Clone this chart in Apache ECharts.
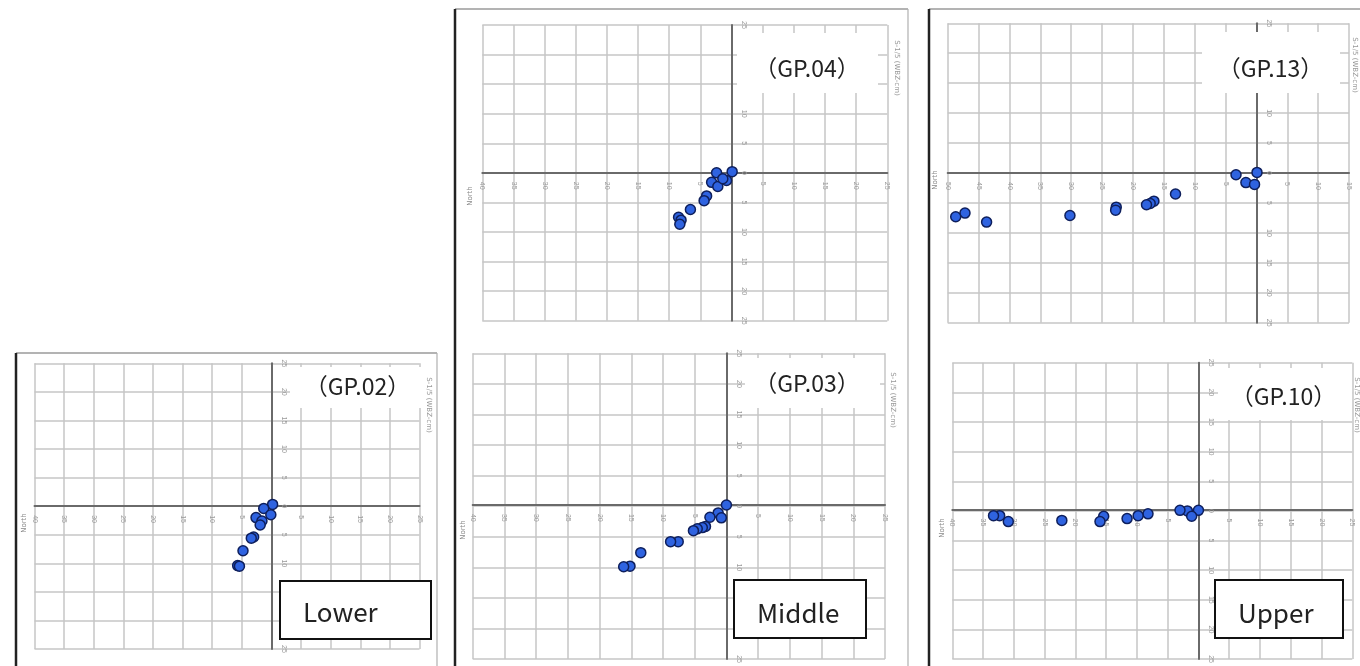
<!DOCTYPE html>
<html><head><meta charset="utf-8">
<script src="https://cdn.jsdelivr.net/npm/echarts@6/dist/echarts.min.js"></script>
<style>html,body{margin:0;padding:0;background:#fff}#c{width:1360px;height:666px}</style>
</head><body><div id="c"></div>
<script>
// ---- data (x: east(+)/west(-) displacement, y: north(+)/south(-) displacement) ----
const panelNames = ['（GP.02）', '（GP.04）', '（GP.03）', '（GP.13）', '（GP.10）'];
const levelNames = ['Lower', 'Middle', 'Upper'];
const xMins = [-40, -40, -40, -50, -40];
const xMaxs = [25, 25, 25, 15, 25];
const yMin = -25, yMax = 25, tickStep = 5;
const northLabel = 'North';
const sideLabel = 'S-1/5 (WBZ-cm)';

const gp02 = [[0.2,0.3],[-1.3,-0.4],[-0.1,-1.5],[-2.6,-2.0],[-1.6,-2.6],[-1.9,-3.3],[-3.0,-5.4],[-3.4,-5.6],[-4.8,-7.8],[-5.7,-10.4],[-5.4,-10.5]];
const gp04 = [[0.1,0.2],[-2.4,0.0],[-3.2,-1.6],[-2.2,-2.3],[-0.8,-1.3],[-1.4,-1.0],[-4.0,-3.9],[-4.4,-4.7],[-6.6,-6.2],[-8.5,-7.5],[-8.1,-8.0],[-8.3,-8.7]];
const gp03 = [[0.0,0.2],[-1.3,-1.1],[-0.8,-1.9],[-2.6,-1.8],[-3.3,-3.3],[-3.8,-3.5],[-4.6,-3.7],[-5.2,-4.0],[-7.6,-5.8],[-8.8,-5.8],[-13.5,-7.6],[-15.2,-9.8],[-16.2,-9.9]];
const gp13 = [[0.1,0.1],[-3.3,-0.3],[-1.7,-1.6],[-0.3,-1.9],[-13.1,-3.5],[-16.6,-4.7],[-17.2,-5.1],[-17.8,-5.3],[-22.7,-5.7],[-22.8,-6.2],[-30.2,-7.1],[-43.7,-8.2],[-47.2,-6.7],[-48.7,-7.3]];
const gp10 = [[0.0,0.1],[-1.8,0.0],[-3.0,0.1],[-1.1,-0.9],[-8.2,-0.5],[-9.8,-0.8],[-11.6,-1.3],[-15.4,-0.9],[-16.0,-1.8],[-22.2,-1.6],[-30.9,-1.8],[-32.3,-0.8],[-33.3,-0.8]];
const seriesData = [gp02, gp04, gp03, gp13, gp10];

// ---- layout ----
const grids = [
  {left: 34.5, top: 363.3, width: 385, height: 285.7},
  {left: 482.3, top: 25, width: 405, height: 295.7},
  {left: 472.7, top: 353.3, width: 412.3, height: 308.4},
  {left: 947.7, top: 23.3, width: 401.3, height: 299.4},
  {left: 952.3, top: 362.7, width: 400, height: 299}
];
const titleBoxes = [
  {x: 290, y: 367, w: 133, h: 41, tx: 357.5, ty: 386},
  {x: 737, y: 33, w: 141, h: 60, tx: 807, ty: 68},
  {x: 745, y: 358, w: 135, h: 50, tx: 807, ty: 383},
  {x: 1202, y: 32, w: 138, h: 61, tx: 1270.5, ty: 68},
  {x: 1218, y: 368, w: 134, h: 52, tx: 1283.5, ty: 396}
];
const levelBoxes = [
  {x: 280, y: 581, w: 151, h: 58, tx: 303, ty: 612},
  {x: 734, y: 580, w: 132, h: 58, tx: 757, ty: 613},
  {x: 1215, y: 580, w: 128, h: 58, tx: 1238, ty: 613}
];
const northPos = [[24, 523], [470, 196], [463, 530], [935, 180], [942, 528]];
const sidePos = [[429, 405], [897, 68], [893, 400], [1355, 65], [1357, 405]];

const gridLineColor = '#c6c6c6';
const axisColor = '#6a6a6a';
const labelColor = '#9a9a9a';

const xAxes = [], yAxes = [], series = [];
for (let i = 0; i < 5; i++) {
  const g = grids[i];
  // distance from the grid edges to the zero lines, so the axes sit on zero
  const zeroFromBottom = (0 - yMin) / (yMax - yMin) * g.height;
  const zeroFromLeft = (0 - xMins[i]) / (xMaxs[i] - xMins[i]) * g.width;
  xAxes.push({
    type: 'value', gridIndex: i, min: xMins[i], max: xMaxs[i], interval: tickStep,
    position: 'bottom', offset: -zeroFromBottom,
    axisLine: {onZero: false, lineStyle: {color: axisColor, width: 2}},
    axisTick: {show: false},
    splitLine: {show: true, lineStyle: {color: gridLineColor, width: 1.5}},
    axisLabel: {fontSize: 7, color: labelColor, rotate: -90, margin: 9,
      formatter: v => v === 0 ? '' : String(Math.abs(v))}
  });
  yAxes.push({
    type: 'value', gridIndex: i, min: yMin, max: yMax, interval: tickStep,
    position: 'left', offset: -zeroFromLeft,
    axisLine: {onZero: false, lineStyle: {color: axisColor, width: 2}},
    axisTick: {show: false},
    splitLine: {show: true, lineStyle: {color: gridLineColor, width: 1.5}},
    axisLabel: {inside: true, fontSize: 7, color: labelColor, rotate: -90, margin: 9,
      formatter: v => String(Math.abs(v))}
  });
  series.push({
    type: 'scatter', xAxisIndex: i, yAxisIndex: i, data: seriesData[i],
    symbol: 'circle', symbolSize: 10, z: 5,
    itemStyle: {color: '#2f63e0', borderColor: '#0e1f5c', borderWidth: 1.5, opacity: 1}
  });
}

const graphic = [];
// frames
graphic.push({type: 'line', z: 20, shape: {x1: 16, y1: 353, x2: 437, y2: 353}, style: {stroke: '#9a9a9a', lineWidth: 1.5}});
graphic.push({type: 'line', z: 20, shape: {x1: 437, y1: 353, x2: 437, y2: 666}, style: {stroke: '#b0b0b0', lineWidth: 1.2}});
graphic.push({type: 'line', z: 20, shape: {x1: 16, y1: 353, x2: 16, y2: 666}, style: {stroke: '#222', lineWidth: 2.5}});
graphic.push({type: 'line', z: 20, shape: {x1: 455, y1: 9, x2: 908, y2: 9}, style: {stroke: '#9a9a9a', lineWidth: 1.5}});
graphic.push({type: 'line', z: 20, shape: {x1: 908, y1: 9, x2: 908, y2: 666}, style: {stroke: '#b0b0b0', lineWidth: 1.2}});
graphic.push({type: 'line', z: 20, shape: {x1: 455, y1: 9, x2: 455, y2: 666}, style: {stroke: '#222', lineWidth: 2.5}});
graphic.push({type: 'line', z: 20, shape: {x1: 929, y1: 9, x2: 1360, y2: 9}, style: {stroke: '#9a9a9a', lineWidth: 1.5}});
graphic.push({type: 'line', z: 20, shape: {x1: 929, y1: 9, x2: 929, y2: 666}, style: {stroke: '#222', lineWidth: 2.5}});

for (let i = 0; i < 5; i++) {
  const b = titleBoxes[i];
  graphic.push({type: 'rect', z: 30, shape: {x: b.x, y: b.y, width: b.w, height: b.h}, style: {fill: '#fff'}});
  graphic.push({type: 'text', z: 31, x: b.tx, y: b.ty, style: {text: panelNames[i], fill: '#222',
    font: '23px "Noto Sans CJK JP", "Noto Sans", sans-serif', textAlign: 'center', textVerticalAlign: 'middle'}});
  graphic.push({type: 'text', z: 31, x: northPos[i][0], y: northPos[i][1], rotation: Math.PI / 2,
    style: {text: northLabel, fill: '#888', font: '7px "DejaVu Sans", sans-serif', textAlign: 'center', textVerticalAlign: 'middle'}});
  graphic.push({type: 'text', z: 31, x: sidePos[i][0], y: sidePos[i][1], rotation: -Math.PI / 2,
    style: {text: sideLabel, fill: '#999', font: '7px "DejaVu Sans", sans-serif', textAlign: 'center', textVerticalAlign: 'middle'}});
}
for (let i = 0; i < 3; i++) {
  const b = levelBoxes[i];
  graphic.push({type: 'rect', z: 30, shape: {x: b.x, y: b.y, width: b.w, height: b.h},
    style: {fill: '#fff', stroke: '#111', lineWidth: 2}});
  graphic.push({type: 'text', z: 31, x: b.tx, y: b.ty, style: {text: levelNames[i], fill: '#222',
    font: '26px "Noto Sans CJK JP", "Noto Sans", sans-serif', textAlign: 'left', textVerticalAlign: 'middle'}});
}

const chart = echarts.init(document.getElementById('c'), null, {renderer: 'canvas'});
chart.setOption({
  animation: false,
  backgroundColor: '#fff',
  grid: grids.map(g => Object.assign({containLabel: false}, g)),
  xAxis: xAxes, yAxis: yAxes, series: series, graphic: graphic
});
</script></body></html>
